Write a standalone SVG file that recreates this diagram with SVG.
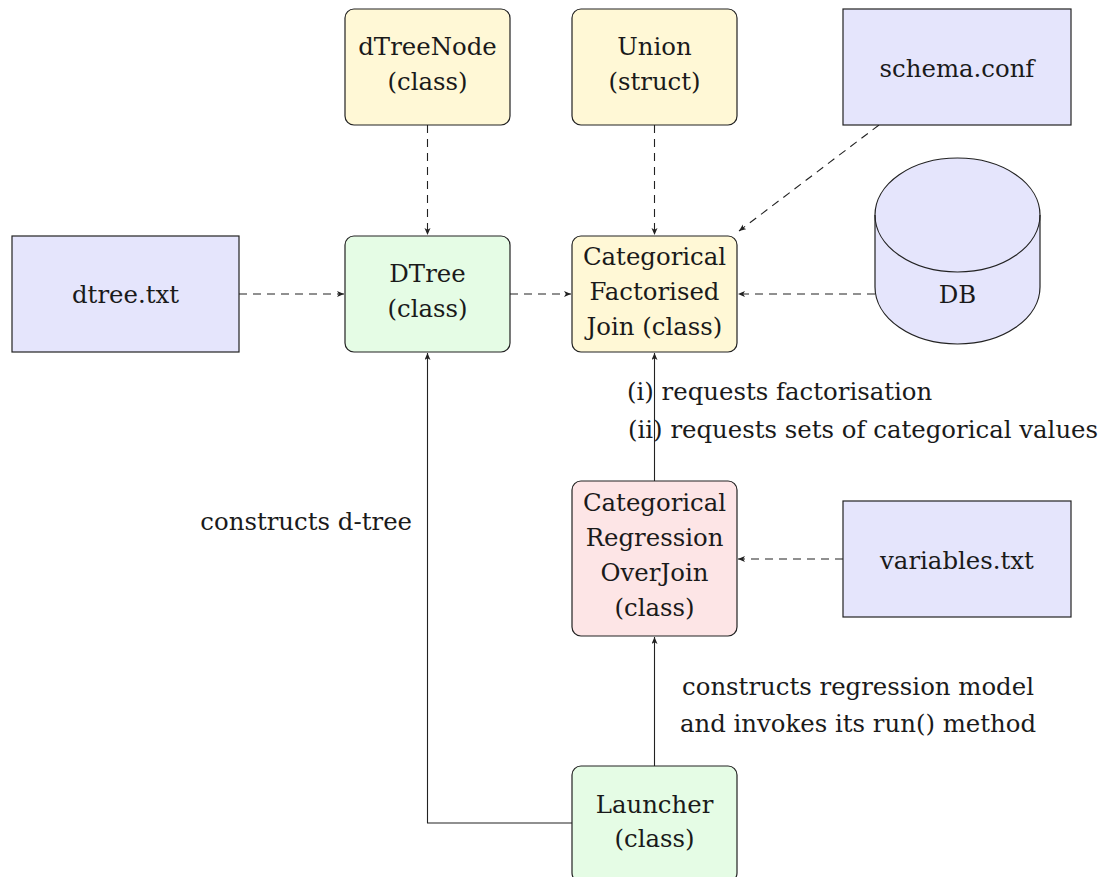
<svg xmlns="http://www.w3.org/2000/svg" width="1112" height="877" viewBox="0 0 1112 877" font-family="'DejaVu Serif', serif">
<style>
text{font-size:24.4px;fill:#1a1a1a}
.c{text-anchor:middle}
.box{stroke:#222;stroke-width:1.2}
.yel{fill:#fff8d6}
.grn{fill:#e5fce5}
.red{fill:#fde5e6}
.blu{fill:#e5e5fc}
.dash{fill:none;stroke:#222;stroke-width:1.1;stroke-dasharray:8 6}
.solid{fill:none;stroke:#222;stroke-width:1.1}
</style>
<defs>
<marker id="ah" markerUnits="userSpaceOnUse" markerWidth="10" markerHeight="8" refX="7" refY="3" orient="auto">
<path d="M0,0 L7,3 L0,6 L1.8,3 z" fill="#222"/>
</marker>
</defs>
<g id="connectors">
<path class="dash" d="M239,294 H344" marker-end="url(#ah)"/>
<path class="dash" d="M427.5,125 V235" marker-end="url(#ah)"/>
<path class="dash" d="M654.5,125 V235" marker-end="url(#ah)"/>
<path class="dash" d="M510,294 H571" marker-end="url(#ah)"/>
<path class="dash" d="M875,294 H738" marker-end="url(#ah)"/>
<path class="dash" d="M879,125 L739,231" marker-end="url(#ah)"/>
<path class="dash" d="M843,559 H738" marker-end="url(#ah)"/>
<path class="solid" d="M654.5,481 V353" marker-end="url(#ah)"/>
<path class="solid" d="M654.5,766 V637" marker-end="url(#ah)"/>
<path class="solid" d="M572,823 H427.5 V353" marker-end="url(#ah)"/>
<text x="627" y="400">(i) requests factorisation</text>
<text x="628" y="438">(ii) requests sets of categorical values</text>
<text x="412" y="530" text-anchor="end">constructs d-tree</text>
<text class="c" x="858" y="695">constructs regression model</text>
<text class="c" x="858" y="732">and invokes its run() method</text>
</g>
<g id="dtree_txt">
<rect class="box blu" x="12" y="236" width="227" height="116"/>
<text class="c" x="125.5" y="303">dtree.txt</text>
</g>
<g id="dTreeNode">
<rect class="box yel" x="345" y="9" width="165" height="116" rx="9"/>
<text class="c" x="427.5" y="55">dTreeNode</text>
<text class="c" x="427.5" y="90">(class)</text>
</g>
<g id="Union">
<rect class="box yel" x="572" y="9" width="165" height="116" rx="9"/>
<text class="c" x="654.5" y="55">Union</text>
<text class="c" x="654.5" y="90">(struct)</text>
</g>
<g id="schema_conf">
<rect class="box blu" x="843" y="9" width="228" height="116"/>
<text class="c" x="957" y="77">schema.conf</text>
</g>
<g id="DTree">
<rect class="box grn" x="345" y="236" width="165" height="116" rx="9"/>
<text class="c" x="427.5" y="282">DTree</text>
<text class="c" x="427.5" y="317">(class)</text>
</g>
<g id="CFJ">
<rect class="box yel" x="572" y="236" width="165" height="116" rx="9"/>
<text class="c" x="654.5" y="265">Categorical</text>
<text class="c" x="654.5" y="300">Factorised</text>
<text class="c" x="654.5" y="335">Join (class)</text>
</g>
<g id="DB">
<path class="box blu" d="M875,215 V287 A82.5,57 0 0 0 1040,287 V215 A82.5,57 0 0 0 875,215 z"/>
<path class="box" fill="none" d="M875,215 A82.5,57 0 0 0 1040,215"/>
<text class="c" x="957.5" y="303">DB</text>
</g>
<g id="CROJ">
<rect class="box red" x="572" y="481" width="165" height="155" rx="9"/>
<text class="c" x="654.5" y="511">Categorical</text>
<text class="c" x="654.5" y="546">Regression</text>
<text class="c" x="654.5" y="581">OverJoin</text>
<text class="c" x="654.5" y="616">(class)</text>
</g>
<g id="variables_txt">
<rect class="box blu" x="843" y="501" width="228" height="116"/>
<text class="c" x="957" y="569">variables.txt</text>
</g>
<g id="Launcher">
<rect class="box grn" x="572" y="766" width="165" height="116" rx="9"/>
<text class="c" x="654.5" y="813">Launcher</text>
<text class="c" x="654.5" y="847">(class)</text>
</g>
</svg>
